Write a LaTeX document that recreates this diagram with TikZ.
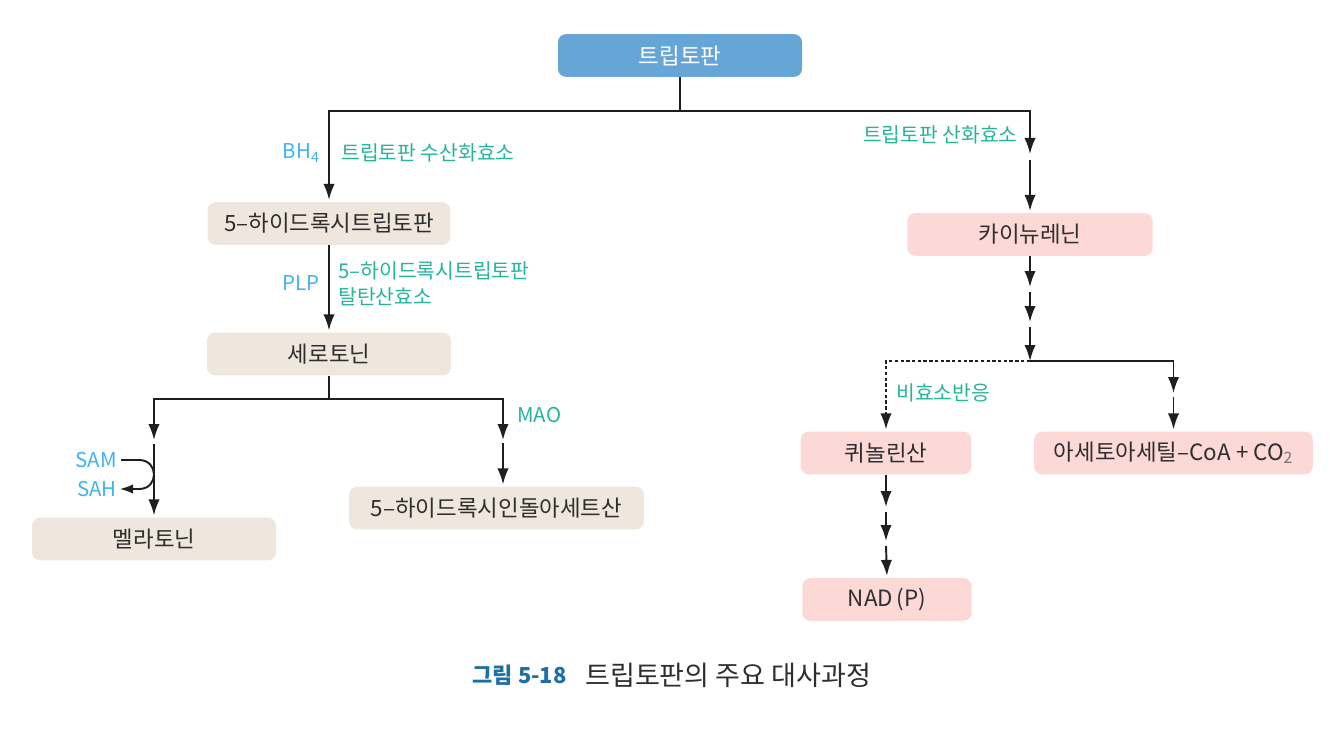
\documentclass[tikz,border=0pt]{standalone}
\usepackage{fontspec}
\setmainfont{Noto Sans CJK KR}
\usetikzlibrary{arrows.meta}
\definecolor{topblue}{HTML}{65A6D7}
\definecolor{beigec}{HTML}{EFE6DD}
\definecolor{pinkc}{HTML}{FCD9D6}
\definecolor{tealc}{HTML}{25B49C}
\definecolor{bluec}{HTML}{3FB3EE}
\definecolor{capblue}{HTML}{1E6FA6}
\definecolor{txt}{HTML}{2E2E2E}
\begin{document}
\begin{tikzpicture}[x=0.75pt,y=-0.75pt,
  box/.style={rounded corners=6pt, minimum height=32pt, inner sep=0pt,
    font=\fontsize{16.8}{19}\selectfont, text=txt},
  beige/.style={box, fill=beigec},
  pink/.style={box, fill=pinkc},
  ln/.style={line width=1.45pt, draw=black!88},
  arr/.style={ln, -{Latex[length=12pt,width=8.5pt]}},
  arrn/.style={arr, shorten >=1.5pt},
  lab/.style={font=\fontsize{15.3}{17}\selectfont, text=tealc, inner sep=0pt},
  labb/.style={font=\fontsize{15.3}{17}\selectfont, text=bluec, inner sep=0pt},
]
\useasboundingbox (0,0) rectangle (1344,738);

% nodes
\node[box, fill=topblue, text=white, minimum width=183pt] (trp) at (680,55.5) {트립토판};
\node[beige, minimum width=182pt] (ht) at (329,223.5) {5–하이드록시트립토판};
\node[beige, minimum width=183pt] (ser) at (329,354) {세로토닌};
\node[beige, minimum width=183pt] (mel) at (154,539) {멜라토닌};
\node[beige, minimum width=221pt] (hiaa) at (496.5,508) {5–하이드록시인돌아세트산};
\node[pink, minimum width=184pt] (kyn) at (1030,234.5) {카이뉴레닌};
\node[pink, minimum width=128pt] (qa) at (886,453) {퀴놀린산};
\node[pink, minimum width=209pt] (aca) at (1173.5,453) {아세토아세틸–CoA + CO\textsubscript{\textcolor{black!55}{2}}};
\node[pink, minimum width=127pt] (nad) at (887,599.5) {NAD\,(P)};

% labels
\node[labb, anchor=east] (bh4) at (320,153) {BH\textsubscript{4}};
\node[lab, anchor=west] (tph) at (341,153) {트립토판 수산화효소};
\node[labb, anchor=east] (plp) at (320,283) {PLP};
\node[lab, anchor=west] (aadc1) at (338,271) {5–하이드록시트립토판};
\node[lab, anchor=west] (aadc2) at (338,297) {탈탄산효소};
\node[lab, anchor=east] (tdo) at (1018,135) {트립토판 산화효소};
\node[labb, anchor=east] (sam) at (117,460) {SAM};
\node[labb, anchor=east] (sah) at (117,489) {SAH};
\node[lab, anchor=west] (mao) at (517,415) {MAO};
\node[lab, anchor=west] (nonenz) at (896,393) {비효소반응};

% caption
\node[anchor=east, inner sep=0pt, font=\fontsize{16.5}{20}\selectfont\bfseries, text=capblue] (cap1) at (567,675) {그림 5-18};
\node[anchor=west, inner sep=0pt, font=\fontsize{20.3}{22}\selectfont, text=txt] (cap2) at (585,675) {트립토판의 주요 대사과정};

% coordinates
\coordinate (j1) at (680,111);
\coordinate (r1) at (1030,154);
\coordinate (r2) at (1030,160);
\coordinate (j2) at (329,399);
\coordinate (l1) at (154,440);
\coordinate (l2) at (154,444);
\coordinate (h1) at (503,440);
\coordinate (h2) at (503,443);
\coordinate (k1) at (1030,287);
\coordinate (k2) at (1030,292);
\coordinate (k3) at (1030,322);
\coordinate (k4) at (1030,327);
\coordinate (j3) at (1030,361);
\coordinate (a1) at (1173.5,393);
\coordinate (a2) at (1173.5,397);
\coordinate (q1) at (886,507);
\coordinate (q2) at (886,512);
\coordinate (q3) at (886,541);
\coordinate (q4) at (886,546);

% connectors
\draw[ln] (trp.south) -- (j1);
\draw[arrn] (j1) -| (ht.north);
\draw[arr] (j1) -| (r1);
\draw[arrn] (r2) -- (kyn.north);
\draw[arrn] (ht.south) -- (ser.north);
\draw[ln] (ser.south) -- (j2);
\draw[arr] (j2) -| (l1);
\draw[arrn] (l2) -- (mel.north);
\draw[arr] (j2) -| (h1);
\draw[arrn] (h2) -- (h2 |- hiaa.north);
\draw[ln, -{Latex[length=10pt,width=7pt]}] ([xshift=3pt]sam.east) -- (139,460)
  .. controls (159,460) and (159,489) .. (139,489) -- ([xshift=2pt]sah.east);
\draw[arr] (kyn.south) -- (k1);
\draw[arr] (k2) -- (k3);
\draw[arr] (k4) -- (j3);
\draw[arrn, dash pattern=on 2.5pt off 1.8pt] (j3) -| (qa.north);
\draw[arr] (j3) -| (a1);
\draw[arrn] (a2) -- (aca.north);
\draw[arr] (qa.south) -- (q1);
\draw[arr] (q2) -- (q3);
\draw[arrn] (q4) -- (nad.north);
\end{tikzpicture}
\end{document}
